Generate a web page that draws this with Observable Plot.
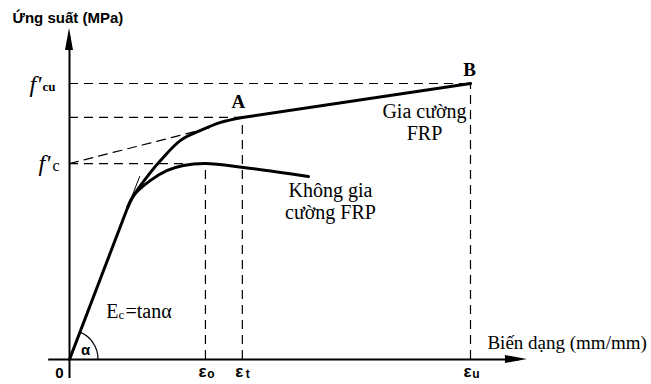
<!DOCTYPE html>
<html><head><meta charset="utf-8">
<script src="https://cdn.jsdelivr.net/npm/d3@7"></script>
<script src="https://cdn.jsdelivr.net/npm/@observablehq/plot@0.6"></script>
<style>
html,body{margin:0;padding:0;background:#fff;}
#chart svg{display:block;overflow:visible;}
</style></head><body><div id="chart"></div>
<script>
// ---- data (schematic units: strain εu = 1, stress f'cu = 1) ----
const keyStrains = [0.339, 0.431, 1.0];          // εo, εt, εu
const keyStresses = [0.710, 0.877, 1.0];         // f'c, A level, f'cu
const strainSubscripts = ["o", "t", "u"];
const linearPart = [[0, 0], [0.145, 0.551]];
const tangentExt = [[0.145, 0.551], [0.175, 0.663]];
const unconfined = [[0.145, 0.551], [0.160, 0.594], [0.202, 0.649], [0.244, 0.685], [0.284, 0.703], [0.339, 0.710], [0.434, 0.696], [0.596, 0.663]];
const confined = [[0.145, 0.551], [0.160, 0.594], [0.202, 0.678], [0.227, 0.721], [0.277, 0.794], [0.327, 0.830], [0.377, 0.859], [0.431, 0.877]];
const confinedLinear = [[0.431, 0.877], [1.0, 1.0]];
const secant = [[0, 0.710], [0.362, 0.844]];
const xAxisExtent = [-0.052, 1.142];
const yAxisExtent = [-0.069, 1.199];

const serif = "'Liberation Serif','Times New Roman',serif";
const sansB = "'Liberation Sans',Arial,sans-serif";
const dash = "9,6";

function arrowHead(px, py, dirx, diry, len, half) {
  const bx = px - dirx * len, by = py - diry * len;
  const nx = -diry, ny = dirx;
  return `M${px},${py}L${bx + nx * half},${by + ny * half}L${bx - nx * half},${by - ny * half}Z`;
}

const chart = Plot.plot({
  width: 651, height: 384,
  marginLeft: 69, marginRight: 181, marginTop: 83, marginBottom: 25,
  x: {domain: [0, 1], axis: null},
  y: {domain: [0, 1], axis: null},
  style: {background: "white", overflow: "visible"},
  marks: [
    // dashed guide lines
    Plot.ruleY(keyStresses, {y: d => d, x1: 0, x2: (d, i) => keyStrains[i], stroke: "black", strokeWidth: 1.2, strokeDasharray: dash}),
    Plot.ruleX(keyStrains, {x: d => d, y1: 0, y2: (d, i) => keyStresses[i], stroke: "black", strokeWidth: 1.2, strokeDasharray: dash}),
    Plot.line(secant, {stroke: "black", strokeWidth: 1.2, strokeDasharray: dash}),
    // axes
    Plot.ruleY([0], {x1: xAxisExtent[0], x2: xAxisExtent[1] - 0.02, stroke: "black", strokeWidth: 2}),
    Plot.ruleX([0], {y1: yAxisExtent[0], y2: yAxisExtent[1] - 0.03, stroke: "black", strokeWidth: 2}),
    (index, {x, y}) => {
      const g = d3.create("svg:g");
      g.append("path").attr("d", arrowHead(x(xAxisExtent[1]), y(0), 1, 0, 22, 4)).attr("fill", "black");
      g.append("path").attr("d", arrowHead(x(0), y(yAxisExtent[1]), 0, -1, 22, 4)).attr("fill", "black");
      // angle arc α
      const cx = x(0), cy = y(0), r = 29;
      const a = Math.atan2(y(0) - y(linearPart[1][1]), x(linearPart[1][0]) - x(0));
      g.append("path")
        .attr("d", `M${cx + r},${cy}A${r},${r} 0 0 0 ${cx + r * Math.cos(a)},${cy - r * Math.sin(a)}`)
        .attr("fill", "none").attr("stroke", "black").attr("stroke-width", 1.2);
      return g.node();
    },
    // curves
    Plot.line(tangentExt, {stroke: "black", strokeWidth: 1}),
    Plot.line(linearPart, {stroke: "black", strokeWidth: 3, strokeLinecap: "round"}),
    Plot.line(unconfined, {stroke: "black", strokeWidth: 3, curve: "catmull-rom", strokeLinecap: "round"}),
    Plot.line(confined, {stroke: "black", strokeWidth: 3, curve: "catmull-rom", strokeLinecap: "round"}),
    Plot.line(confinedLinear, {stroke: "black", strokeWidth: 3, strokeLinecap: "round"}),
    // axis titles
    Plot.text(["Ứng suất (MPa)"], {x: 0, y: yAxisExtent[1], text: d => d, textAnchor: "start", dx: -57, dy: -10, fontFamily: sansB, fontWeight: "bold", fontSize: 15, fill: "black"}),
    Plot.text(["Biến dạng (mm/mm)"], {x: xAxisExtent[1], y: 0, text: d => d, textAnchor: "start", dx: -40, dy: -17, fontFamily: serif, fontSize: 19, fill: "black"}),
    Plot.text(["0"], {x: 0, y: 0, text: d => d, dx: -10, dy: 14, fontFamily: sansB, fontWeight: "bold", fontSize: 15, fill: "black"}),
    // stress labels
    Plot.text(["f'"], {x: 0, y: keyStresses[2], text: d => d, textAnchor: "start", dx: -40, dy: 1, fontFamily: serif, fontStyle: "italic", fontSize: 24, fill: "black"}),
    Plot.text(["cu"], {x: 0, y: keyStresses[2], text: d => d, textAnchor: "start", dx: -27, dy: 3, fontFamily: serif, fontWeight: "bold", fontSize: 13, fill: "black"}),
    Plot.text(["f'"], {x: 0, y: keyStresses[0], text: d => d, textAnchor: "start", dx: -31, dy: 0, fontFamily: serif, fontStyle: "italic", fontSize: 24, fill: "black"}),
    Plot.text(["c"], {x: 0, y: keyStresses[0], text: d => d, textAnchor: "start", dx: -17, dy: 2, fontFamily: serif, fontSize: 16, fill: "black"}),
    // strain labels
    Plot.text(keyStrains, {x: d => d, y: 0, text: () => "ε", dx: -3, dy: 12, fontFamily: sansB, fontWeight: "bold", fontSize: 17, fill: "black"}),
    Plot.text(keyStrains, {x: d => d, y: 0, text: (d, i) => strainSubscripts[i], dx: 5.5, dy: 15, fontFamily: sansB, fontWeight: "bold", fontSize: 12, fill: "black"}),
    // point labels
    Plot.text([confinedLinear[0]], {x: d => d[0], y: d => d[1], text: () => "A", dx: -4, dy: -16, fontFamily: serif, fontWeight: "bold", fontSize: 19, fill: "black"}),
    Plot.text([confinedLinear[1]], {x: d => d[0], y: d => d[1], text: () => "B", dx: -1, dy: -14, fontFamily: serif, fontWeight: "bold", fontSize: 19, fill: "black"}),
    Plot.text([confinedLinear[1]], {x: d => d[0], y: d => d[1], text: () => "Gia cường\nFRP", dx: -46, dy: 38, lineHeight: 1.1, fontFamily: serif, fontSize: 20, fill: "black"}),
    Plot.text([unconfined[unconfined.length - 1]], {x: d => d[0], y: d => d[1], text: () => "Không gia\ncường FRP", dx: 22, dy: 24, lineHeight: 1.1, fontFamily: serif, fontSize: 20, fill: "black"}),
    // modulus label
    Plot.text(["E"], {x: 0, y: 0, text: d => d, textAnchor: "end", dx: 49, dy: -48, fontFamily: serif, fontSize: 20, fill: "black"}),
    Plot.text(["c"], {x: 0, y: 0, text: d => d, textAnchor: "start", dx: 49, dy: -45, fontFamily: serif, fontSize: 13, fill: "black"}),
    Plot.text(["=tanα"], {x: 0, y: 0, text: d => d, textAnchor: "start", dx: 56, dy: -48, fontFamily: serif, fontSize: 20, fill: "black"}),
    Plot.text(["α"], {x: 0, y: 0, text: d => d, dx: 16, dy: -9, fontFamily: sansB, fontWeight: "bold", fontSize: 15, fill: "black"})
  ]
});
document.getElementById("chart").appendChild(chart);
</script></body></html>
